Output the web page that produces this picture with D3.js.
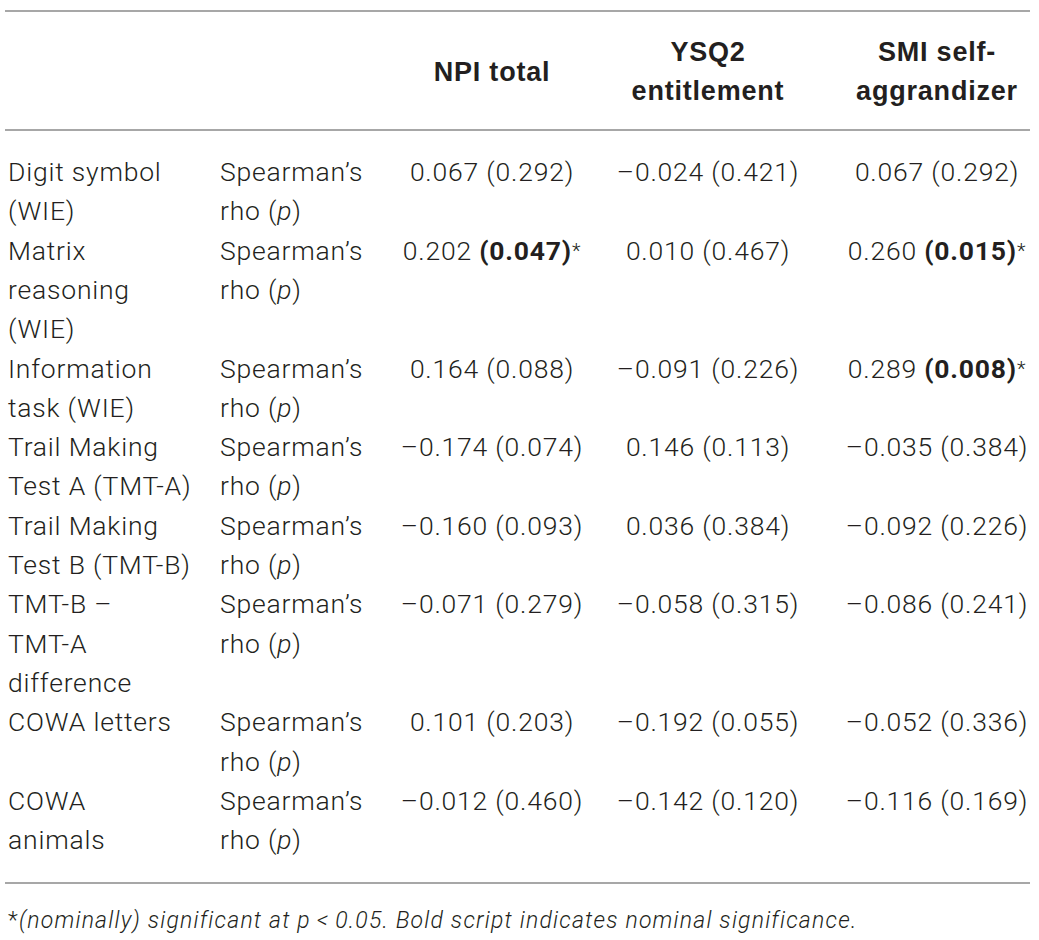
<!DOCTYPE html>
<html>
<head>
<meta charset="utf-8">
<script src="https://cdn.jsdelivr.net/npm/d3@7"></script>
<style>
  body { margin: 0; background: #fff; }
  svg text { font-family: Roboto, "Liberation Sans", sans-serif; fill: #231f20; }
  svg text.head { font-family: "Liberation Sans", Arial, sans-serif; }
</style>
</head>
<body>
<div id="chart"></div>
<script>
// measures (rows) and the statistic used
var measures = [
  ["Digit symbol", "(WIE)"],
  ["Matrix", "reasoning", "(WIE)"],
  ["Information", "task (WIE)"],
  ["Trail Making", "Test A (TMT-A)"],
  ["Trail Making", "Test B (TMT-B)"],
  ["TMT-B –", "TMT-A", "difference"],
  ["COWA letters"],
  ["COWA", "animals"]
];
var headers = [["NPI total"], ["YSQ2", "entitlement"], ["SMI self-", "aggrandizer"]];

// rho and p for each column
var npiRho = [0.067, 0.202, 0.164, -0.174, -0.160, -0.071, 0.101, -0.012];
var npiP   = [0.292, 0.047, 0.088, 0.074, 0.093, 0.279, 0.203, 0.460];
var ysqRho = [-0.024, 0.010, -0.091, 0.146, 0.036, -0.058, -0.192, -0.142];
var ysqP   = [0.421, 0.467, 0.226, 0.113, 0.384, 0.315, 0.055, 0.120];
var smiRho = [0.067, 0.260, 0.289, -0.035, -0.092, -0.086, -0.052, -0.116];
var smiP   = [0.292, 0.015, 0.008, 0.384, 0.226, 0.241, 0.336, 0.169];

var W = 1039, H = 940;
var svg = d3.select("#chart").append("svg")
    .attr("width", W)
    .attr("height", H);

var lineH = 39.3, fs = 26.5, ls = 0.8;
// line index -> baseline
var y = d3.scaleLinear().domain([0, 1]).range([181, 181 + lineH]);
var colX = d3.scaleOrdinal().domain([0, 1, 2]).range([492, 708, 937]);

var fmt = function (v) {
  var s = d3.format(".3f")(Math.abs(v));
  return (v < 0 ? "\u2013" : "") + s;
};

// rules
var rules = [11, 130, 883];
svg.selectAll("line.rule").data(rules).enter().append("line")
    .attr("class", "rule")
    .attr("x1", 5).attr("x2", 1030)
    .attr("y1", function (d) { return d; })
    .attr("y2", function (d) { return d; })
    .attr("stroke", "#8a8a8a")
    .attr("stroke-width", 1.6);

// header
headers.forEach(function (h, i) {
  var top = h.length === 1 ? 81 : 61;
  h.forEach(function (t, j) {
    svg.append("text")
        .attr("class", "head")
        .attr("x", colX(i))
        .attr("y", top + j * 38.5)
        .attr("text-anchor", "middle")
        .attr("font-size", 27)
        .attr("letter-spacing", 0.8)
        .attr("font-weight", 700)
        .text(t);
  });
});

// rows
var start = 0;
measures.forEach(function (m, r) {
  var nLines = Math.max(m.length, 2);
  m.forEach(function (t, j) {
    svg.append("text")
        .attr("x", 8).attr("y", y(start + j))
        .attr("font-size", fs).attr("font-weight", 300)
        .attr("letter-spacing", ls)
        .text(t);
  });
  svg.append("text")
      .attr("x", 220).attr("y", y(start))
      .attr("font-size", fs).attr("font-weight", 300)
      .attr("letter-spacing", ls)
      .text("Spearman\u2019s");
  var t2 = svg.append("text")
      .attr("x", 220).attr("y", y(start + 1))
      .attr("font-size", fs).attr("font-weight", 300)
      .attr("letter-spacing", ls);
  t2.append("tspan").text("rho (");
  t2.append("tspan").attr("font-style", "italic").text("p");
  t2.append("tspan").text(")");

  [[npiRho, npiP], [ysqRho, ysqP], [smiRho, smiP]].forEach(function (c, i) {
    var rho = c[0][r], p = c[1][r];
    var sig = p < 0.05;
    var t = svg.append("text")
        .attr("x", colX(i)).attr("y", y(start))
        .attr("text-anchor", "middle")
        .attr("font-size", fs).attr("font-weight", 300)
        .attr("letter-spacing", ls);
    t.append("tspan").text(fmt(rho) + " ");
    t.append("tspan").attr("font-weight", sig ? 700 : 300).text("(" + d3.format(".3f")(p) + ")");
    if (sig) t.append("tspan").attr("font-size", 20).attr("dy", -2).text("*");
  });
  start += nLines;
});

// footnote
var fn = svg.append("text")
    .attr("x", 8).attr("y", 928)
    .attr("font-size", 23).attr("font-weight", 300)
    .attr("letter-spacing", 1.2)
    .attr("font-style", "italic");
fn.append("tspan").attr("font-style", "normal").text("*");
fn.append("tspan").text("(nominally) significant at p\u2009<\u20090.05. Bold script indicates nominal significance.");
</script>
</body>
</html>
